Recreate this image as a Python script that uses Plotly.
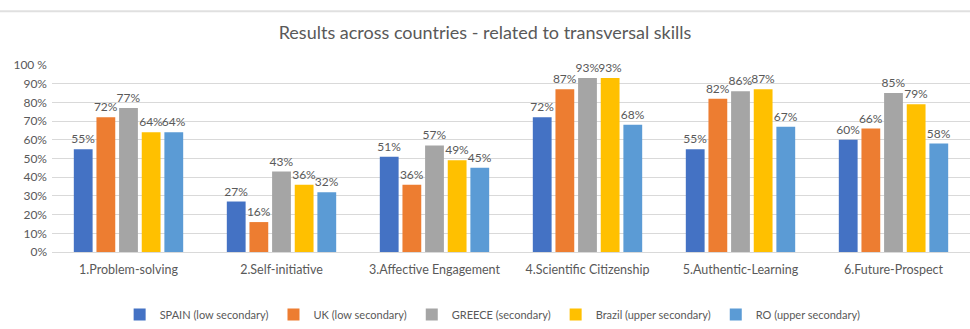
import plotly.graph_objects as go

categories = ["1.Problem-solving", "2.Self-initiative", "3.Affective Engagement",
              "4.Scientific Citizenship", "5.Authentic-Learning", "6.Future-Prospect"]
series_names = ["SPAIN (low secondary)", "UK (low secondary)", "GREECE (secondary)",
                "Brazil (upper secondary)", "RO (upper secondary)"]
spain = [0.55, 0.27, 0.51, 0.72, 0.55, 0.60]
uk = [0.72, 0.16, 0.36, 0.87, 0.82, 0.66]
greece = [0.77, 0.43, 0.57, 0.93, 0.86, 0.85]
brazil = [0.64, 0.36, 0.49, 0.93, 0.87, 0.79]
ro = [0.64, 0.32, 0.45, 0.68, 0.67, 0.58]
colors = ["#4472C4", "#ED7D31", "#A5A5A5", "#FFC000", "#5B9BD5"]
tick_vals = [0, 0.1, 0.2, 0.3, 0.4, 0.5, 0.6, 0.7, 0.8, 0.9, 1.0]
tick_text = ["0%", "10%", "20%", "30%", "40%", "50%", "60%", "70%", "80%", "90%", "100 %"]

FONT = "Lato, sans-serif"
TXT = "#595959"

fig = go.Figure()
for name, vals, col in zip(series_names, [spain, uk, greece, brazil, ro], colors):
    fig.add_trace(go.Bar(
        x=categories, y=vals, name=name, marker=dict(color=col, line=dict(width=0)),
        text=[f"{round(v*100)}%" for v in vals], textposition="outside",
        constraintext="none",
        textfont=dict(family=FONT, size=12, color=TXT), cliponaxis=False,
    ))

fig.update_layout(
    width=970, height=329,
    margin=dict(l=52, r=0, t=65, b=76),
    paper_bgcolor="white", plot_bgcolor="white",
    barmode="group", bargap=0.26, bargroupgap=0.17,
    font=dict(family=FONT, color=TXT, size=12),
    title=dict(text="Results across countries - related to transversal skills",
               x=0.5, xanchor="center", y=1 - 33 / 329, yanchor="middle",
               font=dict(family=FONT, size=18, color=TXT)),
    legend=dict(orientation="h", x=0.48, xanchor="center", y=-0.335, yanchor="middle",
                font=dict(family=FONT, size=11, color=TXT), itemwidth=30,
                traceorder="normal", tracegroupgap=0),
    showlegend=True,
)
fig.update_xaxes(showgrid=False, showline=True, linecolor="#D9D9D9", linewidth=1,
                 ticks="", tickfont=dict(family=FONT, size=12.5, color=TXT),
                 ticklabelstandoff=6)
fig.update_yaxes(range=[0, 1.0], tickvals=tick_vals, ticktext=tick_text,
                 showgrid=True, gridcolor="#D9D9D9", gridwidth=1, zeroline=False,
                 showline=False, tickfont=dict(family=FONT, size=12, color=TXT),
                 ticklabelstandoff=4)
fig.add_shape(type="line", xref="paper", yref="paper", x0=-52 / 918, x1=1,
              y0=(253 - 11) / 188, y1=(253 - 11) / 188,
              line=dict(color="#E0E0E0", width=2))

fig.write_html("out.html")
